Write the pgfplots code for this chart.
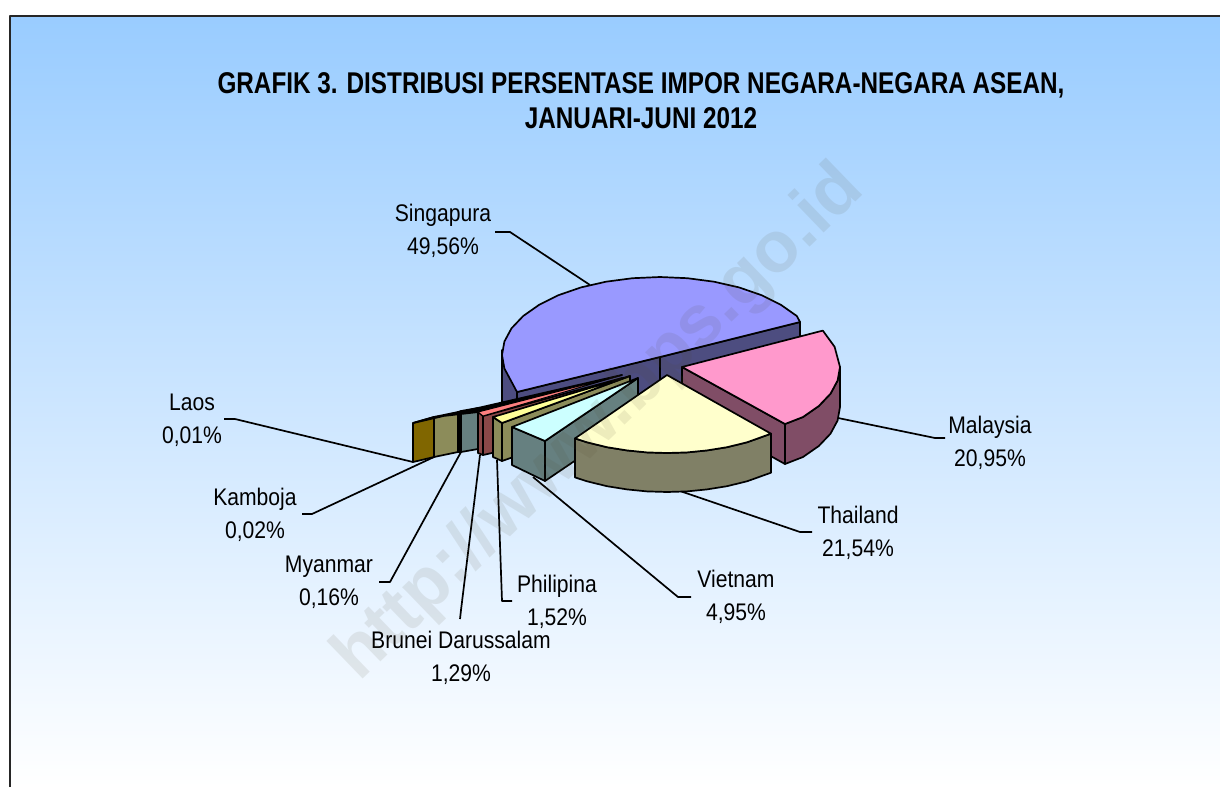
\documentclass[border=0pt]{standalone}
\usepackage{pgfplots}
\pgfplotsset{compat=1.18}
\usepackage{fontspec}
\setmainfont{Liberation Sans}
\newfontfamily\titlefont[FakeStretch=0.81]{Liberation Sans}
\newfontfamily\labfont[FakeStretch=0.88]{Liberation Sans}
\definecolor{bgtop}{HTML}{99CCFF}
\definecolor{sgtop}{HTML}{9999FF}
\definecolor{sgside}{HTML}{4D4D80}
\definecolor{mytop}{HTML}{FF99CC}
\definecolor{myside}{HTML}{804D66}
\definecolor{thtop}{HTML}{FFFFCC}
\definecolor{thside}{HTML}{808066}
\definecolor{vntop}{HTML}{CCFFFF}
\definecolor{vnside}{HTML}{668080}
\definecolor{phtop}{HTML}{FFFF99}
\definecolor{phside}{HTML}{8C8C5A}
\definecolor{brtop}{HTML}{FF8080}
\definecolor{brside}{HTML}{8A4848}
\definecolor{kbside}{HTML}{8C8C5A}
\definecolor{laside}{HTML}{806600}
\definecolor{wmark}{HTML}{504830}
\newcommand{\lab}[3]{\node[align=center,font=\labfont\fontsize{24}{33}\selectfont,inner sep=0pt] at (axis cs:#1,#2) {#3};}
\begin{document}
\begin{tikzpicture}
\begin{axis}[
  scale only axis,width=1220pt,height=787pt,
  xmin=0,xmax=1220,ymin=0,ymax=787,y dir=reverse,
  hide axis,clip=true,
  every axis plot/.append style={line join=round,line width=1.7pt}]
% page and background
\addplot[draw=none,fill=white] coordinates {(0,0)(1220,0)(1220,787)(0,787)} --cycle;
\addplot[draw=none,top color=bgtop,bottom color=white,shading angle=0] coordinates {(10,16)(1220,16)(1220,787)(10,787)} --cycle;
\addplot[draw=black!85,line width=2.2pt] coordinates {(10,787)(10,16)(1220,16)};
% leader lines
\addplot[black] coordinates {(495,232)(510,232)(590,285)};
\addplot[black] coordinates {(838,418)(935,438)(945,438)};
\addplot[black] coordinates {(680,491)(800,532)(812,532)};
\addplot[black] coordinates {(533,477)(678,597)(691,597)};
\addplot[black] coordinates {(497,460)(502,601)(512,601)};
\addplot[black] coordinates {(480,455)(461,610)(460,619)};
\addplot[black] coordinates {(461,452)(390,582)(379,582)};
\addplot[black] coordinates {(434,457)(312,514)(302,514)};
\addplot[black] coordinates {(413,462)(235,419)(224,419)};
% Singapura sides
\addplot[fill=sgside,draw=black] coordinates {(502,350)(502,402)(517,415)(517,390)} --cycle;
\addplot[fill=sgside,draw=black] coordinates {(517,392)(660,357)(800,322)(800,357)(660,392)(517,427)} --cycle;
\addplot[draw=black] coordinates {(660,357)(660,392)};
% Singapura top
\addplot[fill=sgtop,draw=black] coordinates {(800,322)(796.8,316)(781,304.9)(761.6,295.2)(739,287.4)(714,281.7)(687.4,278.2)(660,277)(632.6,278.2)(606,281.7)(581,287.4)(558.4,295.2)(539,304.9)(523.2,316)(511.5,328.3)(504.4,341.5)(502,355)(504.4,368.5)(511.5,381.7)(517,392)(660,357)} --cycle;
% Malaysia
\addplot[fill=myside,draw=black] coordinates {(682,367)(785,424)(785,464)(682,407)} --cycle;
\addplot[fill=myside,draw=black] coordinates {(785,424)(803,417)(818.8,406)(830.5,393.7)(837.6,380.5)(840,367)(840,407)(837.6,420.5)(830.5,433.7)(818.8,446)(803,457)(785,464)} --cycle;
\addplot[fill=mytop,draw=black] coordinates {(682,367)(822.8,330.6)(834.6,346.8)(840,367)(837.6,380.5)(830.5,393.7)(818.8,406)(803,417)(785,424)} --cycle;
% Laos, Kamboja, Myanmar
\addplot[fill=laside,draw=black] coordinates {(413,423)(434,417)(434,457)(413,462)} --cycle;
\addplot[fill=kbside,draw=black] coordinates {(434,417)(458,412)(458,452)(434,457)} --cycle;
\addplot[fill=black,draw=black] coordinates {(458,412)(461,411)(461,452)(458,452)} --cycle;
\addplot[fill=vnside,draw=black] coordinates {(461,411)(478,408)(478,449)(461,452)} --cycle;
% thin black tops
\addplot[fill=black,draw=black,line width=1.8pt] coordinates {(413,423)(478,408)(622,375)(478,412)(434,417)} --cycle;
% Brunei
\addplot[fill=brside,draw=black] coordinates {(478,412)(483,416)(483,455)(478,453)} --cycle;
\addplot[fill=brside,draw=black] coordinates {(483,416)(622,378)(622,415)(492,453)(483,455)} --cycle;
\addplot[fill=brtop,draw=black,line width=1pt] coordinates {(478,412)(622,375)(483,416)} --cycle;
% Philipina
\addplot[fill=phside,draw=black] coordinates {(493,417)(502,423)(502,461)(493,457)} --cycle;
\addplot[fill=phside,draw=black] coordinates {(502,423)(630,376)(630,416)(502,461)} --cycle;
\addplot[fill=phtop,draw=black] coordinates {(493,417)(630,376)(502,423)} --cycle;
% Vietnam
\addplot[fill=vnside,draw=black] coordinates {(545,441)(638,378)(638,418)(545,481)} --cycle;
\addplot[fill=vnside,draw=black] coordinates {(512,427)(545,441)(545,481)(512,465)} --cycle;
\addplot[fill=vntop,draw=black] coordinates {(512,427)(638,378)(545,441)} --cycle;
% Thailand
\addplot[fill=thside,draw=black] coordinates {(771,433.7)(747,442.3)(727,447.2)(707,450.4)(687,452.4)(667,453)(647,452.4)(627,450.4)(607,447.2)(587,442.3)(575,438.4)(575,477.4)(587,481.3)(607,486.2)(627,489.4)(647,491.4)(667,492)(687,491.4)(707,489.4)(727,486.2)(747,481.3)(771,472.7)} --cycle;
\addplot[fill=thtop,draw=black] coordinates {(667,375)(771,433.7)(747,442.3)(727,447.2)(707,450.4)(687,452.4)(667,453)(647,452.4)(627,450.4)(607,447.2)(587,442.3)(575,438.4)} --cycle;
% text
\node[font=\titlefont\fontsize{30}{35}\bfseries\selectfont,align=center,inner sep=0pt] at (axis cs:641,101) {GRAFIK 3. DISTRIBUSI PERSENTASE IMPOR NEGARA-NEGARA ASEAN,\\JANUARI-JUNI 2012};
\lab{443}{231}{Singapura\\49,56\%}
\lab{990}{443}{Malaysia\\20,95\%}
\lab{858}{533}{Thailand\\21,54\%}
\lab{736}{597}{Vietnam\\4,95\%}
\lab{557}{602}{Philipina\\1,52\%}
\lab{461}{658}{Brunei Darussalam\\1,29\%}
\lab{329}{582}{Myanmar\\0,16\%}
\lab{255}{515}{Kamboja\\0,02\%}
\lab{192}{420}{Laos\\0,01\%}
% watermark
\node[rotate=44,opacity=0.10,text=wmark,font=\fontsize{72}{76}\bfseries\selectfont,inner sep=0pt] at (axis cs:600,424) {http://www.bps.go.id};
\end{axis}
\end{tikzpicture}
\end{document}
